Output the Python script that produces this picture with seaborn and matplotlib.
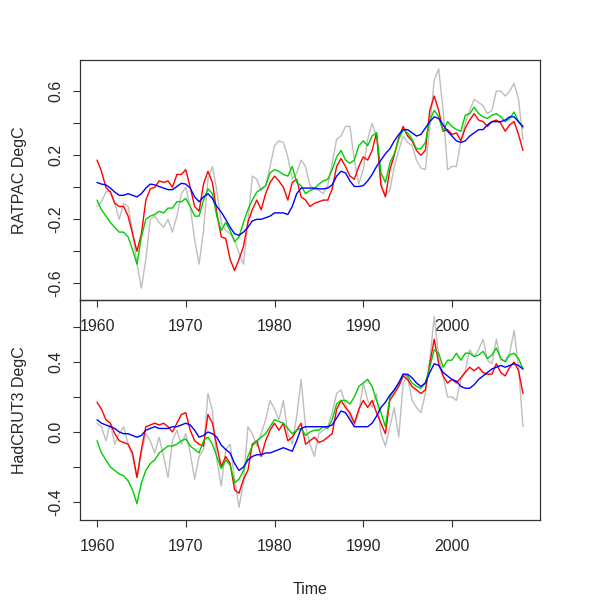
import numpy as np
import matplotlib
matplotlib.use("Agg")
import matplotlib.pyplot as plt
import seaborn as sns

# half-yearly samples, 1960.0 .. 2008.0
YEARS = np.arange(1960.0, 2008.01, 0.5)

# RATPAC panel
RAT_GREY = [
    -0.12, -0.09, -0.03, -0.02, -0.10, -0.20, -0.10, -0.12, -0.27, -0.48,
    -0.63, -0.45, -0.20, -0.18, -0.22, -0.25, -0.20, -0.28, -0.18, -0.04,
    0.00, -0.12, -0.33, -0.48, -0.27, 0.05, 0.13, -0.02, -0.22, -0.27,
    -0.29, -0.33, -0.41, -0.48, -0.22, 0.07, 0.05, -0.02, 0.01, 0.13,
    0.26, 0.29, 0.28, 0.19, 0.05, 0.09, 0.17, 0.13, 0.01, -0.01,
    -0.02, -0.04, 0.01, 0.15, 0.30, 0.32, 0.38, 0.38, 0.17, 0.02,
    0.11, 0.30, 0.40, 0.32, 0.03, -0.05, -0.02, 0.13, 0.23, 0.32,
    0.28, 0.26, 0.17, 0.12, 0.11, 0.38, 0.67, 0.74, 0.48, 0.11,
    0.13, 0.13, 0.29, 0.40, 0.48, 0.55, 0.53, 0.51, 0.46, 0.48,
    0.60, 0.60, 0.57, 0.60, 0.65, 0.55, 0.30,
]
RAT_RED = [
    0.17, 0.10, 0.00, -0.03, -0.10, -0.12, -0.12, -0.18, -0.29, -0.40,
    -0.29, -0.08, -0.01, 0.00, 0.04, 0.03, 0.04, 0.00, 0.08, 0.08,
    0.11, 0.00, -0.12, -0.15, 0.02, 0.10, 0.03, -0.16, -0.31, -0.32,
    -0.45, -0.52, -0.45, -0.37, -0.22, -0.14, -0.08, -0.14, -0.04, 0.03,
    0.07, 0.04, 0.00, -0.08, 0.03, 0.05, -0.06, -0.08, -0.12, -0.10,
    -0.09, -0.08, -0.08, -0.01, 0.13, 0.18, 0.13, 0.07, 0.05, 0.13,
    0.19, 0.17, 0.23, 0.34, 0.01, -0.06, 0.11, 0.20, 0.31, 0.38,
    0.32, 0.29, 0.23, 0.20, 0.23, 0.48, 0.57, 0.48, 0.35, 0.36,
    0.33, 0.34, 0.29, 0.37, 0.42, 0.46, 0.42, 0.41, 0.38, 0.41,
    0.42, 0.40, 0.35, 0.39, 0.41, 0.33, 0.23,
]
RAT_GREEN = [
    -0.08, -0.14, -0.18, -0.22, -0.25, -0.28, -0.28, -0.31, -0.39, -0.48,
    -0.31, -0.20, -0.18, -0.17, -0.15, -0.16, -0.13, -0.13, -0.09, -0.09,
    -0.07, -0.12, -0.18, -0.18, -0.08, -0.01, -0.04, -0.18, -0.27, -0.22,
    -0.27, -0.34, -0.31, -0.22, -0.14, -0.08, -0.03, -0.01, 0.01, 0.09,
    0.11, 0.10, 0.08, 0.07, 0.13, 0.03, 0.01, -0.04, -0.02, -0.01,
    0.02, 0.04, 0.05, 0.11, 0.19, 0.23, 0.17, 0.15, 0.17, 0.26,
    0.29, 0.26, 0.32, 0.34, 0.09, 0.03, 0.15, 0.21, 0.30, 0.36,
    0.34, 0.30, 0.24, 0.24, 0.28, 0.42, 0.48, 0.44, 0.35, 0.41,
    0.38, 0.36, 0.35, 0.45, 0.46, 0.50, 0.46, 0.44, 0.43, 0.45,
    0.46, 0.44, 0.41, 0.43, 0.47, 0.41, 0.37,
]
RAT_BLUE = [
    0.03, 0.02, 0.015, -0.005, -0.03, -0.05, -0.05, -0.04, -0.05, -0.06,
    -0.04, -0.005, 0.02, 0.015, 0.005, -0.005, -0.015, -0.015, 0.005, 0.025,
    0.02, -0.005, -0.06, -0.09, -0.06, -0.04, -0.07, -0.12, -0.155, -0.20,
    -0.25, -0.29, -0.30, -0.28, -0.25, -0.21, -0.20, -0.20, -0.19, -0.18,
    -0.16, -0.16, -0.16, -0.17, -0.12, -0.04, -0.005, -0.005, -0.005, -0.005,
    -0.01, -0.01, -0.005, 0.015, 0.07, 0.10, 0.09, 0.04, 0.005, 0.005,
    0.01, 0.04, 0.08, 0.13, 0.17, 0.21, 0.24, 0.29, 0.33, 0.36,
    0.36, 0.34, 0.32, 0.33, 0.37, 0.41, 0.44, 0.43, 0.39, 0.35,
    0.32, 0.29, 0.28, 0.29, 0.32, 0.34, 0.36, 0.36, 0.39, 0.41,
    0.41, 0.41, 0.42, 0.44, 0.44, 0.41, 0.38,
]

# HadCRUT3 panel
HAD_GREY = [
    0.05, 0.03, -0.05, 0.05, -0.07, -0.01, 0.03, -0.07, -0.14, -0.26,
    -0.12, -0.01, -0.05, -0.12, -0.03, -0.14, -0.26, -0.05, 0.01, -0.07,
    -0.01, -0.12, -0.27, -0.14, -0.10, 0.22, 0.12, -0.16, -0.31, -0.10,
    -0.07, -0.27, -0.43, -0.29, 0.03, -0.01, -0.08, -0.01, 0.07, 0.18,
    0.13, 0.07, 0.18, -0.01, -0.07, 0.09, 0.30, 0.03, -0.07, -0.14,
    -0.01, 0.01, 0.03, 0.11, 0.22, 0.24, 0.16, 0.09, 0.03, 0.11,
    0.28, 0.18, 0.14, 0.22, -0.01, -0.08, 0.03, 0.14, -0.03, 0.28,
    0.32, 0.18, 0.14, 0.11, 0.22, 0.41, 0.66, 0.43, 0.32, 0.20,
    0.20, 0.18, 0.30, 0.35, 0.47, 0.43, 0.47, 0.53, 0.41, 0.39,
    0.53, 0.41, 0.41, 0.45, 0.58, 0.37, 0.03,
]
HAD_RED = [
    0.17, 0.13, 0.07, 0.05, -0.01, -0.05, -0.06, -0.07, -0.12, -0.26,
    -0.10, 0.03, 0.04, 0.05, 0.04, 0.05, 0.03, 0.00, 0.05, 0.10,
    0.11, 0.01, -0.05, -0.07, -0.08, 0.10, 0.05, -0.08, -0.20, -0.14,
    -0.18, -0.33, -0.35, -0.27, -0.22, -0.07, -0.05, -0.14, -0.05, 0.01,
    0.05, 0.01, 0.05, -0.05, -0.03, 0.01, 0.05, -0.07, -0.05, -0.03,
    -0.06, -0.05, -0.03, -0.01, 0.13, 0.18, 0.14, 0.11, 0.05, 0.13,
    0.18, 0.14, 0.18, 0.11, 0.05, -0.01, 0.18, 0.22, 0.26, 0.32,
    0.30, 0.26, 0.24, 0.22, 0.24, 0.39, 0.53, 0.39, 0.32, 0.28,
    0.30, 0.28, 0.31, 0.34, 0.37, 0.35, 0.37, 0.34, 0.33, 0.33,
    0.39, 0.34, 0.32, 0.37, 0.40, 0.35, 0.22,
]
HAD_GREEN = [
    -0.05, -0.12, -0.16, -0.20, -0.22, -0.24, -0.25, -0.28, -0.33, -0.41,
    -0.29, -0.22, -0.18, -0.16, -0.12, -0.10, -0.08, -0.08, -0.07, -0.05,
    -0.04, -0.08, -0.10, -0.12, -0.05, -0.03, -0.07, -0.14, -0.21, -0.16,
    -0.19, -0.29, -0.27, -0.22, -0.14, -0.08, -0.05, -0.03, -0.01, 0.03,
    0.07, 0.06, 0.05, 0.02, -0.01, 0.01, 0.02, -0.02, 0.00, 0.01,
    0.01, 0.03, 0.02, 0.07, 0.16, 0.18, 0.18, 0.16, 0.20, 0.26,
    0.28, 0.30, 0.26, 0.18, 0.11, 0.03, 0.20, 0.24, 0.28, 0.33,
    0.32, 0.28, 0.26, 0.25, 0.28, 0.37, 0.47, 0.45, 0.37, 0.41,
    0.41, 0.45, 0.41, 0.45, 0.45, 0.43, 0.44, 0.46, 0.42, 0.44,
    0.48, 0.42, 0.40, 0.44, 0.45, 0.42, 0.36,
]
HAD_BLUE = [
    0.07, 0.05, 0.04, 0.03, 0.02, 0.00, -0.01, -0.01, -0.02, -0.03,
    -0.02, 0.01, 0.02, 0.03, 0.02, 0.02, 0.02, 0.03, 0.03, 0.04,
    0.05, 0.04, 0.01, -0.03, -0.02, 0.00, -0.01, -0.03, -0.075, -0.10,
    -0.12, -0.18, -0.22, -0.20, -0.16, -0.14, -0.13, -0.13, -0.12, -0.12,
    -0.11, -0.10, -0.09, -0.10, -0.11, -0.05, 0.02, 0.03, 0.03, 0.03,
    0.03, 0.03, 0.03, 0.04, 0.08, 0.12, 0.11, 0.07, 0.03, 0.03,
    0.03, 0.03, 0.05, 0.09, 0.14, 0.17, 0.21, 0.24, 0.28, 0.33,
    0.33, 0.31, 0.28, 0.26, 0.28, 0.34, 0.39, 0.38, 0.34, 0.32,
    0.30, 0.29, 0.26, 0.25, 0.25, 0.27, 0.30, 0.32, 0.34, 0.36,
    0.37, 0.38, 0.37, 0.38, 0.39, 0.38, 0.36,
]

X_TICKS = [1960, 1970, 1980, 1990, 2000]
RAT_YTICKS = [-0.6, -0.4, -0.2, 0.0, 0.2, 0.4, 0.6]
RAT_YLABELS = ["-0.6", "", "-0.2", "", "0.2", "", "0.6"]
HAD_YTICKS = [-0.4, -0.2, 0.0, 0.2, 0.4, 0.6]
HAD_YLABELS = ["-0.4", "", "0.0", "", "0.4", ""]

COLORS = ["#BEBEBE", "#FF0000", "#00CD00", "#0000FF"]

sns.set_style("white")
plt.rcParams["font.family"] = ["Liberation Sans", "DejaVu Sans"]
plt.rcParams["axes.unicode_minus"] = False

fig = plt.figure(figsize=(6, 6), dpi=100)
ax_top = fig.add_axes([80 / 600, 0.5, 460 / 600, 240 / 600])
ax_bot = fig.add_axes([80 / 600, 80 / 600, 460 / 600, 220 / 600])
ax_bot.patch.set_visible(False)


def draw_panel(ax, series, yticks, ylabels, ylim, ylabel):
    for values, color in zip(series, COLORS):
        sns.lineplot(x=YEARS, y=values, ax=ax, color=color, linewidth=1.0)
    ax.set_xlim(1958.08, 2009.92)
    ax.set_ylim(*ylim)
    ax.set_xticks(X_TICKS)
    ax.set_xticklabels([str(t) for t in X_TICKS])
    ax.set_yticks(yticks)
    ax.set_yticklabels(ylabels, rotation=90, va="center")
    ax.tick_params(axis="both", direction="out", length=5, width=0.8,
                   color="#333333", labelsize=11.5, bottom=True, left=True)
    ax.tick_params(axis="x", pad=9)
    ax.tick_params(axis="y", pad=7)
    for spine in ax.spines.values():
        spine.set_color("#333333")
        spine.set_linewidth(0.9)
    ax.set_xlabel("")
    ax.set_ylabel(ylabel, fontsize=11.5)
    ax.yaxis.set_label_coords(-0.115, 0.5)


draw_panel(ax_top, [RAT_GREY, RAT_RED, RAT_GREEN, RAT_BLUE],
           RAT_YTICKS, RAT_YLABELS, (-0.704, 0.795), "RATPAC DegC")
draw_panel(ax_bot, [HAD_GREY, HAD_RED, HAD_GREEN, HAD_BLUE],
           HAD_YTICKS, HAD_YLABELS, (-0.503, 0.754), "HadCRUT3 DegC")

fig.text(310 / 600, 1 - 590 / 600, "Time", ha="center", va="center",
         fontsize=11.5)

fig.savefig("out.png", dpi=100)
